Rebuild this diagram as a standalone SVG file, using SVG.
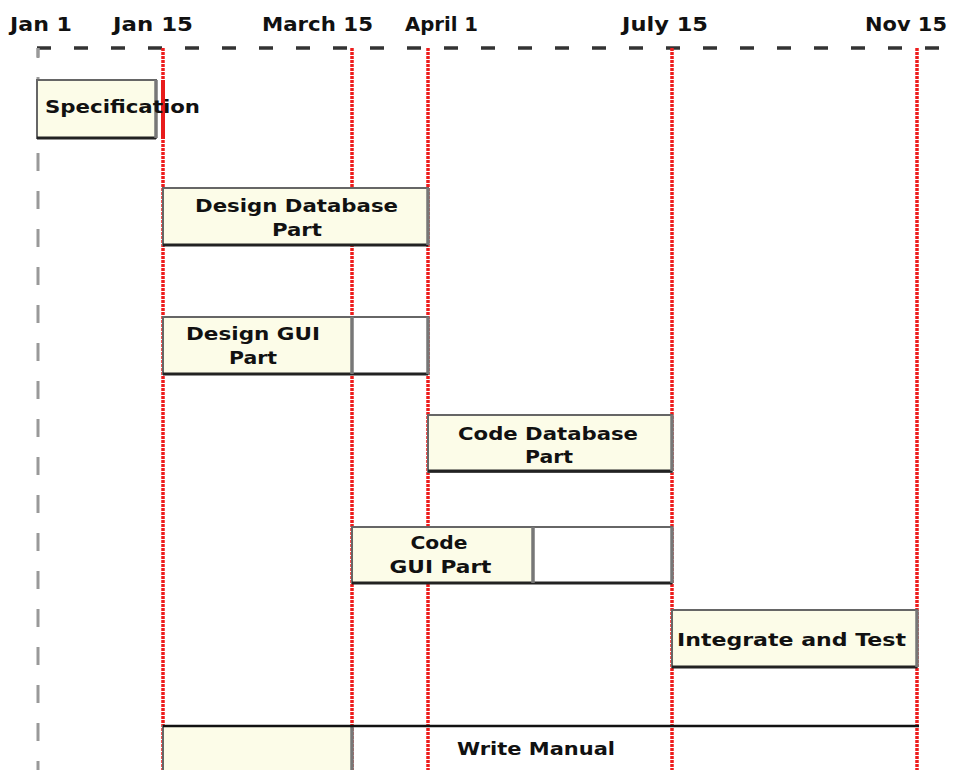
<svg xmlns="http://www.w3.org/2000/svg" width="954" height="770" viewBox="0 0 954 770">
<style>
.hdr{font-family:"DejaVu Sans","Liberation Sans",sans-serif;font-weight:bold;font-size:20px;fill:#111}
.lbl{font-family:"DejaVu Sans","Liberation Sans",sans-serif;font-weight:bold;font-size:18px;fill:#111}
.mid{text-anchor:middle}
.box{fill:#fcfce8;stroke:#666;stroke-width:2}
.wbox{fill:#ffffff;stroke:#666;stroke-width:2}
.shb{stroke:#222;stroke-width:3;fill:none}
.shr{stroke:#777;stroke-width:3.5;fill:none}
.red{stroke:#ee1c1c;stroke-width:3.5;stroke-dasharray:3 1;fill:none}
</style>
<rect width="954" height="770" fill="#ffffff"/>
<g id="axis">
  <line x1="37" y1="48" x2="960" y2="48" stroke="#333" stroke-width="3.5" stroke-dasharray="14 23"/>
  <line x1="38" y1="48" x2="38" y2="58" stroke="#999" stroke-width="3"/>
  <line x1="38" y1="48" x2="38" y2="790" stroke="#999" stroke-width="3" stroke-dasharray="18 20" stroke-dashoffset="9"/>
  <text class="hdr" x="10" y="31" textLength="62" lengthAdjust="spacingAndGlyphs">Jan 1</text>
  <text class="hdr" x="113" y="31" textLength="80" lengthAdjust="spacingAndGlyphs">Jan 15</text>
  <text class="hdr" x="262" y="31" textLength="111" lengthAdjust="spacingAndGlyphs">March 15</text>
  <text class="hdr" x="405" y="31" textLength="73" lengthAdjust="spacingAndGlyphs">April 1</text>
  <text class="hdr" x="622" y="31" textLength="86" lengthAdjust="spacingAndGlyphs">July 15</text>
  <text class="hdr" x="865" y="31" textLength="82" lengthAdjust="spacingAndGlyphs">Nov 15</text>
</g>
<g id="connectors">
  <line class="red" x1="163" y1="48" x2="163" y2="770"/>
  <line class="red" x1="352" y1="48" x2="352" y2="770"/>
  <line class="red" x1="428" y1="48" x2="428" y2="770"/>
  <line class="red" x1="672" y1="48" x2="672" y2="770"/>
  <line class="red" x1="917" y1="48" x2="917" y2="770"/>
  <line x1="163" y1="80" x2="163" y2="139" stroke="#e81c1c" stroke-width="4"/>
</g>
<g id="specification">
  <rect class="box" x="37" y="80" width="119" height="58"/>
  <line class="shb" x1="37" y1="138" x2="156" y2="138"/>
  <line class="shr" x1="156" y1="80" x2="156" y2="138"/>
  <text class="lbl" x="45" y="113" textLength="155" lengthAdjust="spacingAndGlyphs">Specification</text>
</g>
<g id="design-database">
  <rect class="box" x="163" y="188" width="265" height="57"/>
  <line class="shb" x1="163" y1="245" x2="428" y2="245"/>
  <line class="shr" x1="428" y1="188" x2="428" y2="245"/>
  <text class="lbl mid" x="296.5" y="212" textLength="203" lengthAdjust="spacingAndGlyphs">Design Database</text>
  <text class="lbl mid" x="297" y="236" textLength="50" lengthAdjust="spacingAndGlyphs">Part</text>
</g>
<g id="design-gui">
  <rect class="box" x="163" y="317" width="189" height="57"/>
  <rect class="wbox" x="352" y="317" width="76" height="57"/>
  <line class="shb" x1="163" y1="374" x2="428" y2="374"/>
  <line class="shr" x1="352" y1="317" x2="352" y2="374"/>
  <line class="shr" x1="428" y1="317" x2="428" y2="374"/>
  <text class="lbl mid" x="253" y="340" textLength="134" lengthAdjust="spacingAndGlyphs">Design GUI</text>
  <text class="lbl mid" x="253" y="364" textLength="48" lengthAdjust="spacingAndGlyphs">Part</text>
</g>
<g id="code-database">
  <rect class="box" x="428" y="415" width="244" height="57"/>
  <line class="shb" x1="428" y1="471" x2="672" y2="471"/>
  <line class="shr" x1="672" y1="415" x2="672" y2="471"/>
  <text class="lbl mid" x="548" y="440" textLength="180" lengthAdjust="spacingAndGlyphs">Code Database</text>
  <text class="lbl mid" x="549" y="463" textLength="48" lengthAdjust="spacingAndGlyphs">Part</text>
</g>
<g id="code-gui">
  <rect class="box" x="352" y="527" width="181" height="56"/>
  <rect class="wbox" x="533" y="527" width="139" height="56"/>
  <line class="shb" x1="352" y1="583" x2="672" y2="583" stroke="#555"/>
  <line class="shr" x1="533" y1="527" x2="533" y2="583"/>
  <line class="shr" x1="672" y1="527" x2="672" y2="583"/>
  <text class="lbl mid" x="439" y="549" textLength="57" lengthAdjust="spacingAndGlyphs">Code</text>
  <text class="lbl mid" x="440.5" y="573" textLength="102" lengthAdjust="spacingAndGlyphs">GUI Part</text>
</g>
<g id="integrate-test">
  <rect class="box" x="672" y="610" width="245" height="57"/>
  <line class="shb" x1="672" y1="667" x2="917" y2="667"/>
  <line class="shr" x1="917" y1="610" x2="917" y2="667"/>
  <text class="lbl" x="677" y="646" textLength="229" lengthAdjust="spacingAndGlyphs">Integrate and Test</text>
</g>
<g id="write-manual">
  <rect x="163" y="726" width="189" height="50" fill="#fcfce8" stroke="#666" stroke-width="2"/>
  <line x1="352" y1="726" x2="352" y2="770" stroke="#777" stroke-width="3.5"/>
  <line x1="163" y1="726" x2="919" y2="726" stroke="#111" stroke-width="2.5"/>
  <text class="lbl" x="457" y="755" textLength="158" lengthAdjust="spacingAndGlyphs">Write Manual</text>
</g>
</svg>
